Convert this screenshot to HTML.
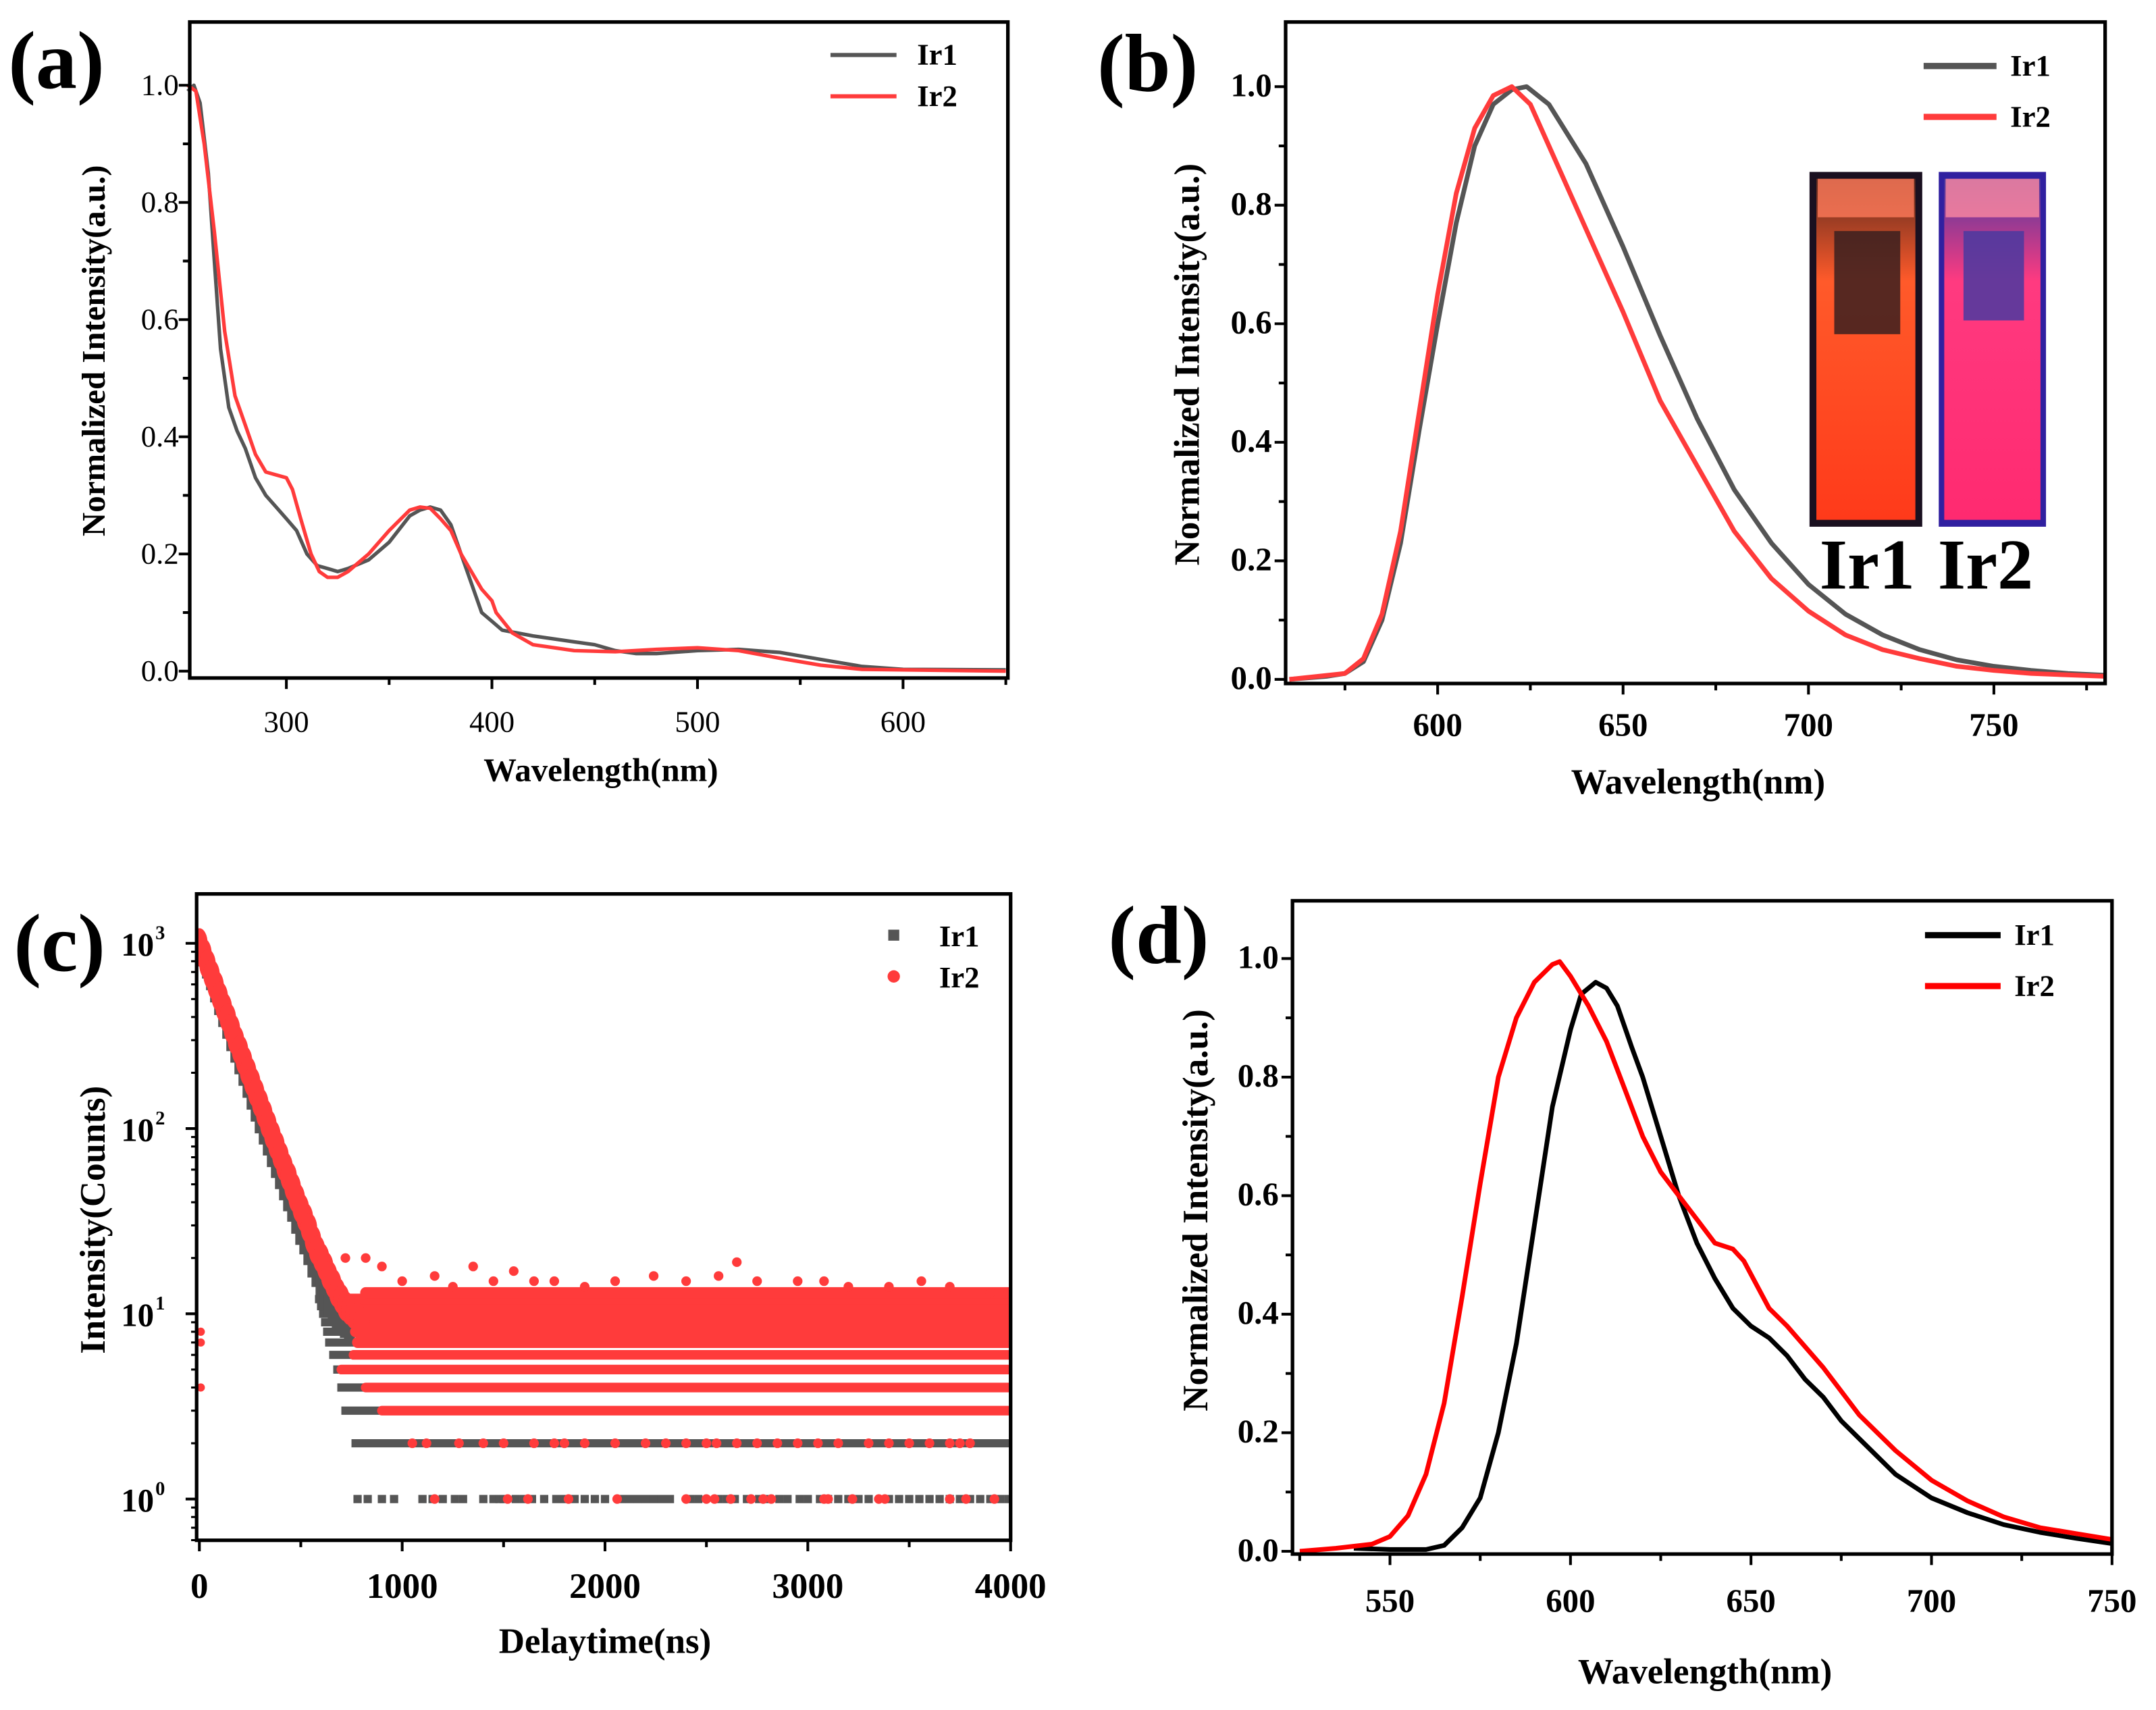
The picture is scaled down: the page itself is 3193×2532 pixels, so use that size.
<!DOCTYPE html>
<html><head><meta charset="utf-8"><style>
html,body{margin:0;padding:0;background:#fff;}
svg{display:block;}
svg text{font-family:"Liberation Serif","DejaVu Serif",serif;}
</style></head><body>
<svg id="fig" width="3193" height="2532" viewBox="0 0 1568 1243.4" preserveAspectRatio="none" xmlns="http://www.w3.org/2000/svg" font-family="Liberation Serif, serif">
<defs>
<linearGradient id="g1" x1="0" y1="0" x2="0" y2="1"><stop offset="0" stop-color="#5a2a20"/><stop offset="0.3" stop-color="#ff5a2a"/><stop offset="1" stop-color="#ff3a1a"/></linearGradient>
<linearGradient id="g2" x1="0" y1="0" x2="0" y2="1"><stop offset="0" stop-color="#4a3aa0"/><stop offset="0.3" stop-color="#ff3a80"/><stop offset="1" stop-color="#ff2a70"/></linearGradient>
</defs>
</svg>
<script>
// ---- Panel (a) data ----
const aX1=[252,255,258,262,265,268,272,276,280,285,290,295,300,305,310,315,320,325,330,340,350,360,365,370,375,380,385,390,395,400,405,420,440,450,460,470,480,500,520,540,560,580,600,650];
const aY1=[0.99,1.0,0.97,0.85,0.7,0.55,0.45,0.41,0.38,0.33,0.30,0.28,0.26,0.24,0.20,0.18,0.175,0.17,0.175,0.19,0.22,0.265,0.275,0.28,0.275,0.25,0.2,0.15,0.1,0.085,0.07,0.06,0.05,0.045,0.035,0.03,0.03,0.035,0.037,0.032,0.02,0.008,0.003,0.002];
const aX2=[252,256,260,265,270,275,280,285,290,295,300,303,307,312,316,320,325,330,340,350,360,365,370,375,380,385,390,395,400,402,410,420,440,460,480,500,520,540,560,580,650];
const aY2=[1.0,0.99,0.9,0.75,0.58,0.47,0.42,0.37,0.34,0.335,0.33,0.31,0.26,0.2,0.17,0.16,0.16,0.17,0.2,0.24,0.275,0.28,0.278,0.26,0.24,0.2,0.17,0.14,0.12,0.1,0.065,0.045,0.035,0.033,0.037,0.04,0.035,0.022,0.01,0.003,0.0];
// ---- Panel (b) data ----
const bX1=[560,570,575,580,585,590,595,600,605,610,615,620,624,630,640,650,660,670,680,690,700,710,720,730,740,750,760,770,780];
const bY1=[0,0.005,0.01,0.03,0.1,0.23,0.42,0.6,0.77,0.9,0.97,0.995,1.0,0.97,0.87,0.73,0.58,0.44,0.32,0.23,0.16,0.11,0.075,0.05,0.033,0.022,0.015,0.01,0.007];
const bX2=[560,575,580,585,590,595,600,605,610,615,620,625,630,640,650,660,670,680,690,700,710,720,730,740,750,760,780];
const bY2=[0,0.01,0.035,0.11,0.25,0.45,0.65,0.82,0.93,0.985,1.0,0.97,0.9,0.76,0.62,0.47,0.36,0.25,0.17,0.115,0.075,0.05,0.035,0.022,0.015,0.01,0.005];
// ---- Panel (c) data ----
const cT1=[0,20,40,60,80,100,120,140,160,180,200,220,240,260,280,300,320,340,360,380,400,420,440,460,480,500,520,540,560,580,600,620,640,660,680,700,720,740];
const cC1=[1000,860,740,640,550,470,405,350,300,260,225,195,168,145,125,108,94,82,71,62,54,47,41,36,31,27,24,21,18,16,14,12.5,11,10,9.5,9,8.5,8];
const cT2=[0,20,40,60,80,100,120,140,160,180,200,220,240,260,280,300,320,340,360,380,400,420,440,460,480,500,520,540,560,580,600,620,640,660,680,700,720,740,760,780,800];
const cC2=[1000,880,770,675,590,515,450,395,345,300,265,232,203,178,156,137,120,105,92,81,71,62,55,48,42,37,33,29,25,22,20,18,16,14.5,13,12,11,10.5,10,9.5,9];
const cLevels1=[3,4,5,6,7,8,9,10,11,12];
const cLevelStart1=[700,680,660,640,620,610,600,590,580,570];
const cLevels2=[3,4,5,6,7,8,9,10,11,12,13];
const cLevelStart2=[900,820,700,760,780,770,760,740,720,700,820];
const cLevel2Ir1Start=750;
const cLevel1Ir1=[780,830,900,960,1100,1150,1200,1260,1300,1400,1450,1480,1500,1560,1600,1640,1700,1760,1800,1850,1900,1950,2000,2080,2120,2160,2200,2240,2280,2320,2420,2460,2560,2600,2640,2700,2760,2800,2860,2900,2960,3000,3060,3100,3150,3200,3250,3300,3400,3450,3500,3550,3600,3650,3700,3750,3800,3850,3900,3950,3990];
const cLevel1Ir2=[1160,1520,1620,1820,2060,2400,2500,2540,2620,2720,2780,2820,3080,3100,3220,3350,3380,3700,3780,3920];
const cLevel2Ir2=[1050,1120,1280,1400,1500,1650,1750,1800,1900,2050,2200,2300,2400,2500,2550,2650,2750,2850,2950,3050,3150,3300,3400,3500,3600,3700,3750,3800];
const cOutT=[720,820,900,1000,1160,1250,1350,1450,1550,1650,1750,1900,2050,2240,2400,2560,2650,2750,2950,3080,3200,3400,3560,3700,3900,3990];
const cOutC=[20,20,18,15,16,14,18,15,17,15,15,14,15,16,15,16,19,15,15,15,14,14,15,14,13,13];
const cBandT=[0,0,0];
const cBandC=[8,7,4];
// ---- Panel (d) data ----
const dX1=[540,550,560,565,570,575,580,585,590,595,600,603,607,610,613,617,620,625,630,635,640,645,650,655,660,665,670,675,680,685,690,695,700,710,720,730,740,750];
const dY1=[0.005,0.003,0.003,0.01,0.04,0.09,0.2,0.35,0.55,0.75,0.88,0.94,0.96,0.95,0.92,0.85,0.8,0.7,0.6,0.52,0.46,0.41,0.38,0.36,0.33,0.29,0.26,0.22,0.19,0.16,0.13,0.11,0.09,0.065,0.045,0.032,0.022,0.013];
const dX2=[525,535,545,550,555,560,565,570,575,580,585,590,595,597,600,605,610,615,620,625,630,635,640,645,648,655,660,670,680,690,700,710,720,730,740,750];
const dY2=[0.0,0.005,0.012,0.025,0.06,0.13,0.25,0.43,0.62,0.8,0.9,0.96,0.99,0.995,0.97,0.92,0.86,0.78,0.7,0.64,0.6,0.56,0.52,0.51,0.49,0.41,0.38,0.31,0.23,0.17,0.12,0.085,0.058,0.04,0.03,0.02];

const NS="http://www.w3.org/2000/svg";
const svg=document.getElementById('fig');
function mk(tag,attrs,parent){const e=document.createElementNS(NS,tag);for(const k in attrs)e.setAttribute(k,attrs[k]);(parent||svg).appendChild(e);return e;}
function txt(s,attrs,parent){attrs['font-family']='Liberation Serif, DejaVu Serif, serif';const e=mk('text',attrs,parent);e.textContent=s;return e;}

function linAxis(d0,d1,r0,r1){return v=>r0+(v-d0)/(d1-d0)*(r1-r0);}

function frame(g,L,R,T,B){
  const f=mk('rect',{x:L,y:T,width:R-L,height:B-T,fill:'none',stroke:'#000','stroke-width':2.6},g);
  
  
}
function xTicks(g,sx,B,majors,minors,labelY,bold,fs){
  majors.forEach(v=>{
    const t=mk('line',{x1:sx(v),x2:sx(v),y1:B,y2:B+8,stroke:'#000','stroke-width':2},g);
    
    
    const l=txt(String(v),{x:sx(v),y:labelY,'text-anchor':'middle','font-size':fs,'font-weight':bold?'bold':'normal'},g);
    
    
  });
  minors.forEach(v=>{mk('line',{x1:sx(v),x2:sx(v),y1:B,y2:B+5,stroke:'#000','stroke-width':2},g);});
}
function yTicks(g,sy,L,majors,labels,minors,labelX,bold,fs){
  majors.forEach((v,i)=>{
    const t=mk('line',{x1:L-8,x2:L,y1:sy(v),y2:sy(v),stroke:'#000','stroke-width':2},g);
    
    
    const l=txt(labels[i],{x:labelX,y:sy(v)+7,'text-anchor':'end','font-size':fs,'font-weight':bold?'bold':'normal'},g);
    
    
  });
  minors.forEach(v=>{mk('line',{x1:L-5,x2:L,y1:sy(v),y2:sy(v),stroke:'#000','stroke-width':2},g);});
}
function line(g,xs,ys,sx,sy,color,w,name){
  const p=mk('polyline',{points:xs.map((x,i)=>sx(x).toFixed(1)+','+sy(ys[i]).toFixed(1)).join(' '),fill:'none',stroke:color,'stroke-width':w,'stroke-linejoin':'round'},g);
  
  
}
function legendLine(g,x1,x2,y,color,label,tx,w){
  const l=mk('line',{x1:x1,x2:x2,y1:y,y2:y,stroke:color,'stroke-width':w},g);
  
  
  const t=txt(label,{x:tx,y:y+7,'font-size':22,'font-weight':'bold'},g);
  
  
}
function titles(g,xt,xx,xy,yt,yx,yy,fs){
  const a=txt(xt,{x:xx,y:xy,'text-anchor':'middle','font-size':fs,'font-weight':'bold'},g);
  
  
  const b=txt(yt,{x:0,y:0,'text-anchor':'middle','font-size':fs,'font-weight':'bold',transform:`translate(${yx},${yy}) rotate(-90)`},g);
  
  
}
function panelLabel(g,s,x,y){
  const t=txt(s,{x:x,y:y,'font-size':60,'font-weight':'bold'},g);
  
  
}

// ===== Panel a =====
(function(){
  const g=mk('g',{});
  
  
  const L=138,R=733,T=16,B=493;
  const sx=linAxis(253,651,L,R), sy=linAxis(0,1,488,62);
  line(g,aX1,aY1,sx,sy,'#555',2.6,'series-ir1');
  line(g,aX2,aY2,sx,sy,'#ff3b3b',2.6,'series-ir2');
  frame(g,L,R,T,B);
  xTicks(g,sx,B,[300,400,500,600],[350,450,550,650],532,false,22);
  yTicks(g,sy,L,[0,0.2,0.4,0.6,0.8,1.0],['0.0','0.2','0.4','0.6','0.8','1.0'],[0.1,0.3,0.5,0.7,0.9],130,false,22);
  titles(g,'Wavelength(nm)',437,568,'Normalized Intensity(a.u.)',76,255,24);
  legendLine(g,604,652,40,'#555','Ir1',667,3);
  legendLine(g,604,652,70,'#ff3b3b','Ir2',667,3);
  panelLabel(g,'(a)',6,64);
})();

// ===== Panel b =====
(function(){
  const g=mk('g',{});
  
  
  const L=935,R=1531,T=16,B=497;
  const sx=linAxis(559,780,L,R), sy=linAxis(0,1,494,63);
  line(g,bX1,bY1,sx,sy,'#555',3.4,'series-ir1');
  line(g,bX2,bY2,sx,sy,'#ff3b3b',3.4,'series-ir2');
  frame(g,L,R,T,B);
  xTicks(g,sx,B,[600,650,700,750],[575,625,675,725,775],535,true,24);
  yTicks(g,sy,L,[0,0.2,0.4,0.6,0.8,1.0],['0.0','0.2','0.4','0.6','0.8','1.0'],[0.1,0.3,0.5,0.7,0.9],925,true,24);
  titles(g,'Wavelength(nm)',1235,577,'Normalized Intensity(a.u.)',872,265,26);
  legendLine(g,1399,1452,48,'#555','Ir1',1462,4.5);
  legendLine(g,1399,1452,85,'#ff3b3b','Ir2',1462,4.5);
  const p=mk('g',{},g);
  
  
  mk('rect',{x:1316,y:125,width:82,height:258,fill:'#1a1020'},p);
  mk('rect',{x:1321,y:130,width:72,height:248,fill:'url(#g1)'},p);
  mk('rect',{x:1334,y:168,width:48,height:75,fill:'#3a2020',opacity:0.85},p);
  mk('rect',{x:1322,y:130,width:70,height:28,fill:'#ff7a5a',opacity:0.8},p);
  mk('rect',{x:1410,y:125,width:78,height:258,fill:'#3020a0'},p);
  mk('rect',{x:1414,y:130,width:70,height:248,fill:'url(#g2)'},p);
  mk('rect',{x:1428,y:168,width:44,height:65,fill:'#4a3aa0',opacity:0.85},p);
  mk('rect',{x:1415,y:130,width:68,height:28,fill:'#ff8aa0',opacity:0.8},p);
  const l1=txt('Ir1',{x:1358,y:428,'text-anchor':'middle','font-size':52,'font-weight':'bold'},g);
  
  
  const l2=txt('Ir2',{x:1444,y:428,'text-anchor':'middle','font-size':52,'font-weight':'bold'},g);
  
  
  panelLabel(g,'(b)',798,66);
})();

// ===== Panel c =====
(function(){
  const g=mk('g',{});
  
  
  const L=143,R=735,T=650,B=1120;
  const sx=linAxis(0,4000,145,735);
  const sy=v=>1090-Math.log10(v)*134.7;
  const clip=mk('clipPath',{id:'cclip'},g);
  mk('rect',{x:L,y:T,width:R-L,height:B-T},clip);
  const data=mk('g',{'clip-path':'url(#cclip)'},g);
  const gray='#555', red='#ff3b3b';
  cLevels1.forEach((lv,i)=>{
    const r=mk('line',{x1:sx(cLevelStart1[i]),x2:R,y1:sy(lv),y2:sy(lv),stroke:gray,'stroke-width':6},data);
    
    
  });
  const r2=mk('line',{x1:sx(cLevel2Ir1Start),x2:R,y1:sy(2),y2:sy(2),stroke:gray,'stroke-width':6},data);
  
  
  cLevel1Ir1.forEach(t=>{
    const s=mk('rect',{x:sx(t)-3,y:sy(1)-3,width:6,height:6,fill:gray},data);
    
    
  });
  cT1.forEach((t,i)=>{
    const s=mk('rect',{x:sx(t)-4,y:sy(cC1[i])-8,width:8,height:16,fill:gray},data);
    
    
  });
  cLevels2.forEach((lv,i)=>{
    const r=mk('line',{x1:sx(cLevelStart2[i]),x2:R,y1:sy(lv),y2:sy(lv),stroke:red,'stroke-width':lv>=7?8:7,'stroke-linecap':'round'},data);
    
    
  });
  cLevel2Ir2.forEach(t=>{
    const c=mk('circle',{cx:sx(t),cy:sy(2),r:3.5,fill:red},data);
    
    
  });
  cLevel1Ir2.forEach(t=>{
    const c=mk('circle',{cx:sx(t),cy:sy(1),r:3.5,fill:red},data);
    
    
  });
  cOutT.forEach((t,i)=>{
    const c=mk('circle',{cx:sx(t),cy:sy(cOutC[i]),r:3.5,fill:red},data);
    
    
  });
  cT2.forEach((t,i)=>{
    const c=mk('ellipse',{cx:sx(t),cy:sy(cC2[i]),rx:6,ry:11,fill:red},data);
    
    
  });
  cBandC.forEach((v,i)=>{
    const c=mk('circle',{cx:sx(cBandT[i])+1,cy:sy(v),r:3,fill:red},data);
    
    
  });
  frame(g,L,R,T,B);
  xTicks(g,sx,B,[0,1000,2000,3000,4000],[500,1500,2500,3500],1162,true,26);
  [0,1,2,3].forEach(e=>{
    const v=Math.pow(10,e);
    mk('line',{x1:L-8,x2:L,y1:sy(v),y2:sy(v),stroke:'#000','stroke-width':2},g);
    const t=txt('10',{x:112,y:sy(v)+9,'text-anchor':'end','font-size':24,'font-weight':'bold'},g);
    
    
    const s=txt(String(e),{x:113,y:sy(v)-3,'font-size':14,'font-weight':'bold'},g);
    
    
  });
  for(let e=-1;e<4;e++)for(let m=2;m<10;m++){const v=m*Math.pow(10,e);const y=sy(v);if(y>T&&y<B)mk('line',{x1:L-4,x2:L,y1:y,y2:y,stroke:'#000','stroke-width':1.5},g);}
  titles(g,'Delaytime(ns)',440,1202,'Intensity(Counts)',76,887,26);
  const m1=mk('rect',{x:646,y:676,width:8,height:8,fill:gray},g);
  
  
  const m2=mk('circle',{cx:650,cy:710,r:4.5,fill:red},g);
  
  
  const t1=txt('Ir1',{x:683,y:688,'font-size':22,'font-weight':'bold'},g);
  
  
  const t2=txt('Ir2',{x:683,y:718,'font-size':22,'font-weight':'bold'},g);
  
  
  panelLabel(g,'(c)',10,706);
})();

// ===== Panel d =====
(function(){
  const g=mk('g',{});
  
  
  const L=940,R=1536,T=655,B=1130;
  const sx=linAxis(523,750,L,R), sy=linAxis(0,1,1128,697);
  line(g,dX1,dY1,sx,sy,'#000',3.4,'series-ir1');
  line(g,dX2,dY2,sx,sy,'#ff0000',3.4,'series-ir2');
  frame(g,L,R,T,B);
  xTicks(g,sx,B,[550,600,650,700,750],[525,575,625,675,725],1172,true,24);
  yTicks(g,sy,L,[0,0.2,0.4,0.6,0.8,1.0],['0.0','0.2','0.4','0.6','0.8','1.0'],[0.1,0.3,0.5,0.7,0.9],930,true,24);
  titles(g,'Wavelength(nm)',1240,1224,'Normalized Intensity(a.u.)',878,880,26);
  legendLine(g,1400,1455,680,'#000','Ir1',1465,4.5);
  legendLine(g,1400,1455,717,'#ff0000','Ir2',1465,4.5);
  panelLabel(g,'(d)',806,700);
})();
</script>
</body></html>
